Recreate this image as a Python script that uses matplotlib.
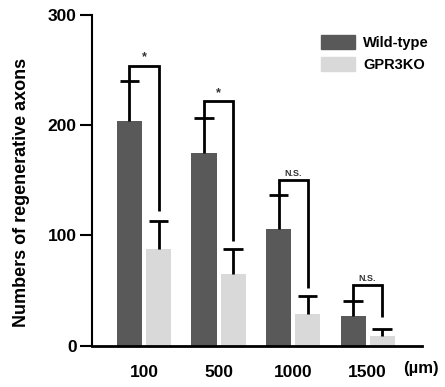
import matplotlib
matplotlib.use("Agg")
import matplotlib.pyplot as plt
from matplotlib.patches import Patch

plt.rcParams['font.family'] = ['Liberation Sans', 'DejaVu Sans']

categories = ["100", "500", "1000", "1500"]
wt_mean = [204, 175, 106, 27]
wt_err = [36, 32, 31, 14]
ko_mean = [88, 65, 29, 9]
ko_err = [25, 23, 16, 6]
sig_labels = ["*", "*", "N.S.", "N.S."]
bracket_top = [254, 222, 150, 55]
bracket_right_end = [122, 95, 52, 26]

wt_color = "#595959"
ko_color = "#d9d9d9"

fig = plt.figure(figsize=(4.45, 3.87), dpi=100)
ax = fig.add_axes([92/445, 1-345.7/387, (422-92)/445, (345.7-15)/387])

x = list(range(len(categories)))
w = 0.336
off = 0.195
cap = 0.13
xw = [i - off for i in x]
xk = [i + off for i in x]

ax.bar(xw, wt_mean, width=w, color=wt_color, zorder=2)
ax.bar(xk, ko_mean, width=w, color=ko_color, zorder=2)

lw = 2.0
for xs, m, e in [(xw, wt_mean, wt_err), (xk, ko_mean, ko_err)]:
    for xi, mi, ei in zip(xs, m, e):
        ax.plot([xi, xi], [mi, mi + ei], color='black', lw=lw, zorder=3, solid_capstyle='butt')
        ax.plot([xi - cap, xi + cap], [mi + ei, mi + ei], color='black', lw=lw, zorder=3,
                solid_capstyle='butt')

for i in x:
    left_bottom = wt_mean[i] + wt_err[i]
    ax.plot([xw[i], xw[i], xk[i], xk[i]],
            [left_bottom, bracket_top[i], bracket_top[i], bracket_right_end[i]],
            color='black', lw=lw, solid_joinstyle='miter', solid_capstyle='butt',
            clip_on=False, zorder=3)
    fs = 9 if sig_labels[i] == "*" else 6.5
    ax.text(i, bracket_top[i] + 2, sig_labels[i], ha='center', va='bottom',
            fontsize=fs, fontweight='bold', color='#333333')

ax.set_xlim(-0.698, 3.73)
ax.set_ylim(0, 300)
ax.set_yticks([0, 100, 200, 300])
ax.set_yticklabels(["0", "100", "200", "300"], fontsize=12.5, fontweight='bold')
ax.set_xticks(x)
ax.set_xticklabels(categories, fontsize=12.5, fontweight='bold')
ax.tick_params(axis='x', length=0, pad=14)
ax.tick_params(axis='y', length=9, width=1.5, pad=2)
for s in ['top', 'right']:
    ax.spines[s].set_visible(False)
ax.spines['left'].set_linewidth(1.5)
ax.spines['bottom'].set_linewidth(2)

ax.set_ylabel("Numbers of regenerative axons", fontsize=13, fontweight='bold')
ax.yaxis.set_label_coords(-62/330, 0.462)

fig.text(403/445, 1-368/387, "(µm)", fontsize=12, fontweight='bold', ha='left', va='center')

handles = [Patch(color=wt_color), Patch(color=ko_color)]
leg = ax.legend(handles, ["Wild-type", "GPR3KO"], loc='upper left',
                bbox_to_anchor=(308/445, 1-22/387), bbox_transform=fig.transFigure,
                frameon=False, prop={'weight': 'bold', 'size': 10.5},
                handlelength=2.3, handleheight=1.1, handletextpad=0.6, labelspacing=0.5)

fig.savefig("out.png", dpi=100)
